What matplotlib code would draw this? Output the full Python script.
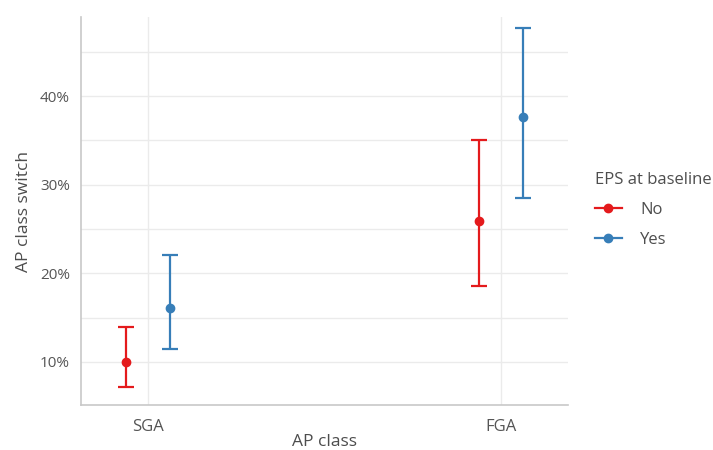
import matplotlib.pyplot as plt
from matplotlib.lines import Line2D
from matplotlib.ticker import FuncFormatter

plt.rcParams["font.family"] = ["Open Sans", "DejaVu Sans"]

categories = ["SGA", "FGA"]
groups = ["No", "Yes"]
colors = {"No": "#E41A1C", "Yes": "#377EB8"}

# percent switch, lower and upper CI
estimate = {"No": [10.0, 25.9], "Yes": [16.1, 37.6]}
lower = {"No": [7.2, 18.6], "Yes": [11.5, 28.5]}
upper = {"No": [13.9, 35.0], "Yes": [22.1, 47.7]}

dodge = {"No": -0.063, "Yes": 0.063}

fig = plt.figure(figsize=(7.13, 4.5), dpi=100)
ax = fig.add_axes([0.1136, 0.1, 0.683, 0.862])

for group in groups:
    xs = [i + 1 + dodge[group] for i in range(len(categories))]
    ys = estimate[group]
    err = [[y - lo for y, lo in zip(ys, lower[group])],
           [hi - y for y, hi in zip(ys, upper[group])]]
    ax.errorbar(xs, ys, yerr=err, fmt="o", color=colors[group], markersize=6,
                elinewidth=1.6, capsize=6, capthick=1.6, zorder=3)

ax.set_xlim(0.81, 2.19)
ax.set_ylim(5.15, 48.9)
ax.set_xticks([1, 2])
ax.set_xticklabels(categories)
ax.set_yticks([10, 20, 30, 40])
ax.set_yticks([15, 25, 35, 45], minor=True)
ax.yaxis.set_major_formatter(FuncFormatter(lambda v, _: f"{v:.0f}%"))

ax.grid(which="both", color="#ebebeb", linewidth=1.0, zorder=0)
ax.set_axisbelow(True)
for side in ["top", "right"]:
    ax.spines[side].set_visible(False)
for side in ["left", "bottom"]:
    ax.spines[side].set_color("#c8c8c8")
    ax.spines[side].set_linewidth(1.2)
ax.tick_params(which="both", length=0, labelcolor="#555555")
ax.tick_params(axis="y", labelsize=11, pad=8)
ax.tick_params(axis="x", labelsize=12, pad=10)

ax.set_xlabel("AP class", fontsize=12.5, color="#4d4d4d")
ax.xaxis.set_label_coords(0.5, -0.075)
ax.set_ylabel("AP class switch", fontsize=12.5, color="#4d4d4d", labelpad=6)

handles = [Line2D([0], [0], color=colors[g], marker="o", markersize=6, linewidth=1.6)
           for g in groups]
leg = ax.legend(handles, groups, title="EPS at baseline", loc="upper left",
                bbox_to_anchor=(1.025, 0.64), frameon=False, fontsize=12,
                title_fontsize=12, handlelength=1.6, handletextpad=1.1,
                labelspacing=0.85, alignment="left")
for text in leg.get_texts():
    text.set_color("#4d4d4d")
leg.get_title().set_color("#4d4d4d")

fig.savefig("out.png", dpi=100)
